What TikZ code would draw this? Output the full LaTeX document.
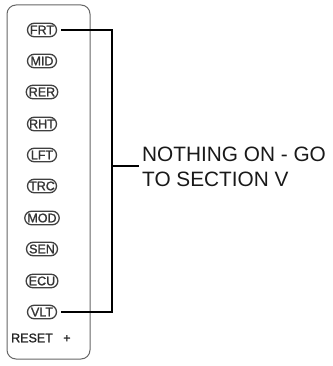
\documentclass[tikz,border=0pt]{standalone}
\usepackage{fontspec}
\setmainfont{Liberation Sans}
\newfontfamily\indfont[FakeBold=1.3]{Liberation Sans}
\usetikzlibrary{shapes.misc}
\begin{document}
\begin{tikzpicture}[x=1pt,y=-1pt,
  panel/.style={draw=black!60, line width=1pt, rounded corners=9pt},
  ind/.style={rounded rectangle, draw=black!75, line width=1.3pt, inner xsep=1pt, inner ysep=0.5pt, minimum height=13.5pt, minimum width=31pt, font=\indfont\fontsize{12.5}{12.5}\selectfont, text=black!80},
  wire/.style={draw=black, line width=2.2pt},
  lbl/.style={font=\fontsize{20.8}{25}\selectfont, align=left, anchor=west, inner sep=0pt, text=black!90}
]
\useasboundingbox (0,0) rectangle (332,366);
\draw[panel] (7,5) rectangle (90,359);
\node[ind] (frt) at (42,30) {FRT};
\node[ind] (mid) at (42,61) {MID};
\node[ind] (rer) at (42,92) {RER};
\node[ind] (rht) at (42,124) {RHT};
\node[ind] (lft) at (42,155) {LFT};
\node[ind] (trc) at (42,186) {TRC};
\node[ind] (mod) at (42,218) {MOD};
\node[ind] (sen) at (42,249) {SEN};
\node[ind] (ecu) at (42,281) {ECU};
\node[ind] (vlt) at (42,312) {VLT};
\node[font=\indfont\fontsize{12.5}{12.5}\selectfont, anchor=west, inner sep=0pt, text=black!85] (reset) at (11,338) {RESET\ \ \ +};
\coordinate (xr) at (112,0);
\coordinate (mid1) at (112,166);
\node[lbl] (txt) at (142,167) {NOTHING ON - GO\\TO SECTION V};
\draw[wire] ([xshift=4pt]frt.east) -- (xr |- frt.east) -- (xr |- vlt.east) -- ([xshift=4pt]vlt.east);
\draw[wire] (mid1) -- ([xshift=-3pt]txt.west |- mid1);
\end{tikzpicture}
\end{document}
